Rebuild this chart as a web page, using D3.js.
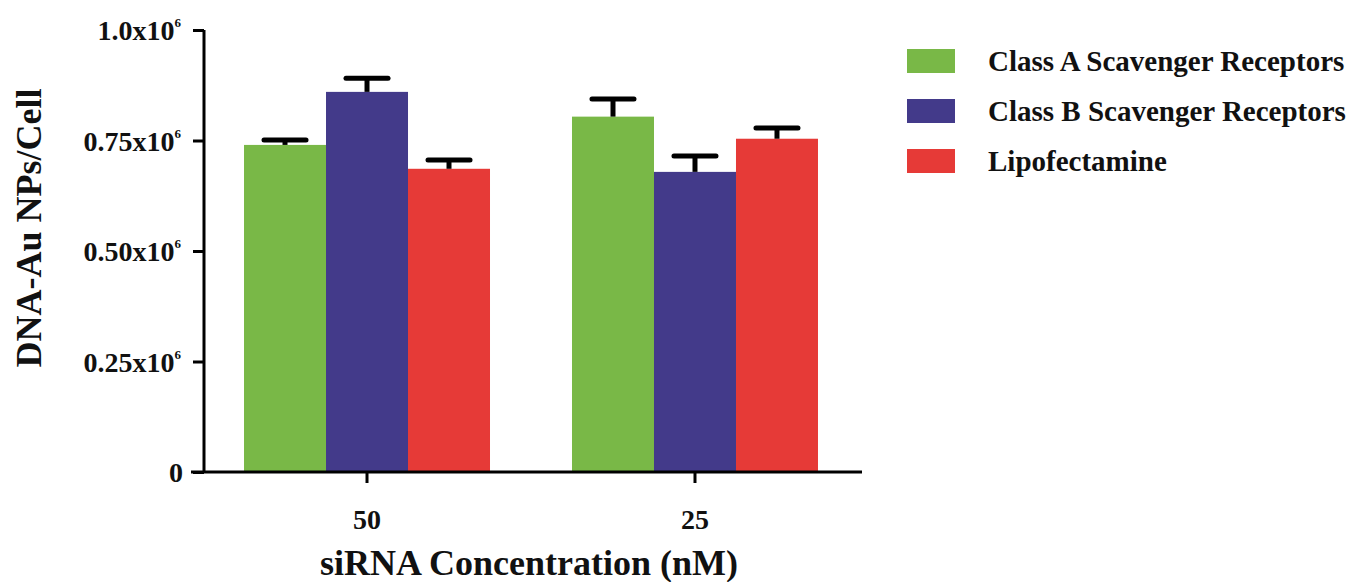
<!DOCTYPE html>
<html>
<head>
<meta charset="utf-8">
<script src="https://cdn.jsdelivr.net/npm/d3@7"></script>
<style>
  body { margin: 0; background: #fff; }
  text { font-family: "Liberation Serif", "Times New Roman", serif; font-weight: bold; fill: #111; }
</style>
</head>
<body>
<div id="chart"></div>
<script>
var groups = ["50", "25"];
var series = ["Class A Scavenger Receptors", "Class B Scavenger Receptors", "Lipofectamine"];
var colors = ["#79b847", "#433a8a", "#e63a37"];
var means = [[0.740e6, 0.860e6, 0.686e6], [0.804e6, 0.679e6, 0.754e6]];
var errs = [[0.011e6, 0.031e6, 0.020e6], [0.040e6, 0.036e6, 0.024e6]];
var yTicks = [0, 0.25e6, 0.5e6, 0.75e6, 1.0e6];
var yTickText = ["0", "0.25x10", "0.50x10", "0.75x10", "1.0x10"];

var W = 1362, H = 582;
var svg = d3.select("#chart").append("svg").attr("width", W).attr("height", H);

var x0 = d3.scaleBand().domain(groups).range([204, 858]).paddingInner(0.25).paddingOuter(0.122);
var x1 = d3.scaleBand().domain(series).range([0, x0.bandwidth()]);
var y = d3.scaleLinear().domain([0, 1.0e6]).range([472, 30]);

// bars + error bars
var g = svg.append("g");
groups.forEach(function(grp, i) {
  series.forEach(function(s, j) {
    var bx = x0(grp) + x1(s), bw = x1.bandwidth();
    g.append("rect")
      .attr("x", bx).attr("y", y(means[i][j]))
      .attr("width", bw).attr("height", y(0) - y(means[i][j]))
      .attr("fill", colors[j]);
    var cx = bx + bw / 2;
    g.append("line")
      .attr("x1", cx).attr("x2", cx)
      .attr("y1", y(means[i][j])).attr("y2", y(means[i][j] + errs[i][j]))
      .attr("stroke", "#000").attr("stroke-width", 5);
    g.append("line")
      .attr("x1", cx - 21).attr("x2", cx + 21)
      .attr("y1", y(means[i][j] + errs[i][j])).attr("y2", y(means[i][j] + errs[i][j]))
      .attr("stroke", "#000").attr("stroke-width", 5).attr("stroke-linecap", "round");
  });
});

// y axis
var ya = svg.append("g").attr("transform", "translate(204,0)")
  .call(d3.axisLeft(y).tickValues(yTicks).tickSize(11).tickFormat(""));
ya.select(".domain").attr("stroke-width", 3).attr("d", "M0," + y(1.0e6) + "V" + y(0));
ya.selectAll(".tick line").attr("stroke-width", 3);
yTicks.forEach(function(v, i) {
  var t = svg.append("text").attr("x", i > 0 ? 181 : 183).attr("y", y(v) + 10)
    .attr("text-anchor", "end").style("font-size", "28px");
  t.append("tspan").text(yTickText[i]);
  if (i > 0) t.append("tspan").attr("dy", -13).style("font-size", "13px").text("6");
});

// x axis
var xa = svg.append("g").attr("transform", "translate(0," + y(0) + ")")
  .call(d3.axisBottom(x0).tickSize(11).tickFormat(""));
xa.select(".domain").attr("stroke-width", 3).attr("d", "M191,0H862");
xa.selectAll(".tick line").attr("stroke-width", 3);
groups.forEach(function(grp) {
  svg.append("text").attr("x", x0(grp) + x0.bandwidth() / 2).attr("y", 529)
    .attr("text-anchor", "middle").style("font-size", "28px").text(grp);
});

svg.append("text").attr("x", 529).attr("y", 575).attr("text-anchor", "middle")
  .style("font-size", "36px").text("siRNA Concentration (nM)");
svg.append("text").attr("transform", "translate(41,228) rotate(-90)")
  .attr("text-anchor", "middle").style("font-size", "36px").text("DNA-Au NPs/Cell");

// legend
var leg = svg.append("g").attr("transform", "translate(907,49)");
series.forEach(function(s, j) {
  leg.append("rect").attr("x", 0).attr("y", j * 50).attr("width", 48).attr("height", 24).attr("fill", colors[j]);
  leg.append("text").attr("x", 81).attr("y", j * 50 + 22).style("font-size", "29px").text(s);
});
</script>
</body>
</html>
